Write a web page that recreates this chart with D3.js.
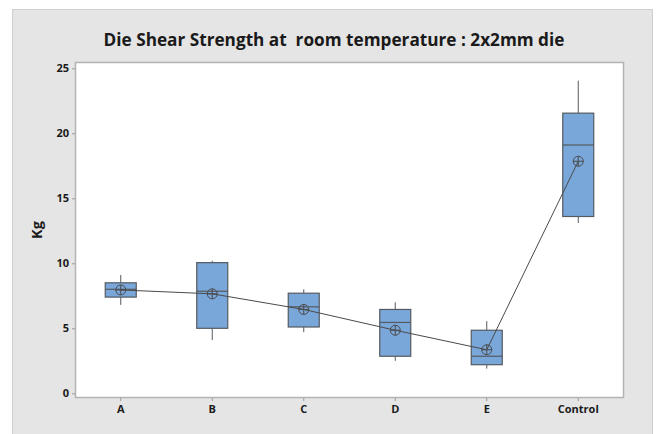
<!DOCTYPE html>
<html>
<head>
<meta charset="utf-8">
<script src="https://cdn.jsdelivr.net/npm/d3@7"></script>
<style>
  html, body { margin: 0; padding: 0; background: #ffffff; }
  svg { display: block; font-family: "Open Sans", "Noto Sans", sans-serif; }
</style>
</head>
<body>
<svg id="chart" width="657" height="434"></svg>
<script>
// Die shear strength (Kg) per group
const categories = ["A", "B", "C", "D", "E", "Control"];
const whiskerLow  = [6.8, 4.1, 4.7, 2.5, 1.9, 13.1];
const q1          = [7.4, 5.0, 5.1, 2.85, 2.2, 13.6];
const medians     = [8.0, 7.85, 6.65, 5.45, 2.85, 19.1];
const q3          = [8.5, 10.05, 7.7, 6.45, 4.85, 21.55];
const whiskerHigh = [9.1, 10.2, 8.0, 7.0, 5.55, 24.05];
const means       = [7.95, 7.65, 6.45, 4.85, 3.35, 17.85];
const yTicks = [0, 5, 10, 15, 20, 25];

const svg = d3.select("#chart");
const W = 657, H = 434;

// outer panel
svg.append("rect")
  .attr("x", 12.5).attr("y", 9.5)
  .attr("width", 640).attr("height", H)
  .attr("fill", "#e5e5e5")
  .attr("stroke", "#cfcfcf").attr("stroke-width", 1);

const plot = { left: 75, top: 62, right: 624, bottom: 398 };

// plot frame
svg.append("rect")
  .attr("x", plot.left + 0.5).attr("y", plot.top + 0.5)
  .attr("width", plot.right - plot.left - 1).attr("height", plot.bottom - plot.top - 1)
  .attr("fill", "#ffffff")
  .attr("stroke", "#b4b4b4").attr("stroke-width", 1.5);

const x = d3.scaleBand()
  .domain(categories)
  .range([plot.left, plot.right])
  .padding(0);

const y = d3.scaleLinear()
  .domain([0, 25])
  .range([393.3, 68.3]);

// title
svg.append("text")
  .attr("x", 334).attr("y", 46)
  .attr("text-anchor", "middle")
  .attr("font-size", 17.2)
  .attr("font-weight", "bold")
  .attr("fill", "#1a1a1a")
  .style("white-space", "pre")
  .attr("xml:space", "preserve")
  .text("Die Shear Strength at  room temperature : 2x2mm die");

// y axis
const yAxis = d3.axisLeft(y).tickValues(yTicks).tickSize(3).tickPadding(3);
const gy = svg.append("g")
  .attr("transform", `translate(${plot.left},0)`)
  .call(yAxis);
gy.select(".domain").remove();
gy.selectAll(".tick line").attr("stroke", "#9a9a9a");
gy.selectAll(".tick text")
  .attr("font-size", 11).attr("font-weight", "bold")
  .attr("fill", "#1a1a1a")
  .attr("font-family", "\"Open Sans\", sans-serif");

// x axis
const xAxis = d3.axisBottom(x).tickSize(3).tickPadding(4);
const gx = svg.append("g")
  .attr("transform", `translate(0,${plot.bottom})`)
  .call(xAxis);
gx.select(".domain").remove();
gx.selectAll(".tick line").attr("stroke", "#9a9a9a");
gx.selectAll(".tick text")
  .attr("font-size", 11).attr("font-weight", "bold")
  .attr("fill", "#1a1a1a")
  .attr("font-family", "\"Open Sans\", sans-serif");

// y axis label
svg.append("text")
  .attr("transform", `translate(42,${(plot.top + plot.bottom) / 2}) rotate(-90)`)
  .attr("text-anchor", "middle")
  .attr("font-size", 14.5).attr("font-weight", "bold")
  .attr("fill", "#1a1a1a")
  .text("Kg");

const boxW = 31;
const stroke = "#555a60";
const data = categories.map((c, i) => ({
  c, lo: whiskerLow[i], q1: q1[i], med: medians[i], q3: q3[i], hi: whiskerHigh[i], mean: means[i]
}));
const cx = d => x(d.c) + x.bandwidth() / 2;

const g = svg.append("g");

// whiskers
g.selectAll("line.wh-hi").data(data).join("line")
  .attr("x1", cx).attr("x2", cx)
  .attr("y1", d => y(d.q3)).attr("y2", d => y(d.hi))
  .attr("stroke", stroke).attr("stroke-width", 1);
g.selectAll("line.wh-lo").data(data).join("line")
  .attr("x1", cx).attr("x2", cx)
  .attr("y1", d => y(d.q1)).attr("y2", d => y(d.lo))
  .attr("stroke", stroke).attr("stroke-width", 1);

// boxes
g.selectAll("rect.box").data(data).join("rect")
  .attr("x", d => cx(d) - boxW / 2)
  .attr("y", d => y(d.q3))
  .attr("width", boxW)
  .attr("height", d => y(d.q1) - y(d.q3))
  .attr("fill", "#7aa7da")
  .attr("stroke", stroke).attr("stroke-width", 1.2);

// medians
g.selectAll("line.med").data(data).join("line")
  .attr("x1", d => cx(d) - boxW / 2).attr("x2", d => cx(d) + boxW / 2)
  .attr("y1", d => y(d.med)).attr("y2", d => y(d.med))
  .attr("stroke", stroke).attr("stroke-width", 1.2);

// mean connect line
const line = d3.line().x(cx).y(d => y(d.mean));
g.append("path")
  .datum(data)
  .attr("d", line)
  .attr("fill", "none")
  .attr("stroke", "#4a4a4a").attr("stroke-width", 1);

// mean symbols (circle with cross)
const r = 5;
const ms = g.selectAll("g.mean").data(data).join("g")
  .attr("transform", d => `translate(${cx(d)},${y(d.mean)})`);
ms.append("circle").attr("r", r)
  .attr("fill", "none").attr("stroke", "#4a4a4a").attr("stroke-width", 1);
ms.append("line").attr("x1", -r).attr("x2", r)
  .attr("stroke", "#4a4a4a").attr("stroke-width", 1);
ms.append("line").attr("y1", -r).attr("y2", r)
  .attr("stroke", "#4a4a4a").attr("stroke-width", 1);
</script>
</body>
</html>
